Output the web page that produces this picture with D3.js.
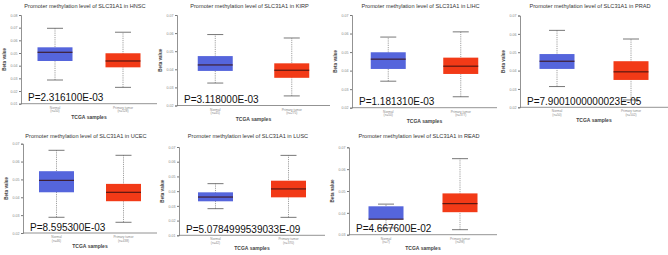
<!DOCTYPE html>
<html lang="en">
<head>
<meta charset="utf-8">
<title>SLC31A1 promoter methylation</title>
<script src="https://d3js.org/d3.v7.min.js"></script>
<style>
    * { margin: 0; padding: 0; }
    body { background: white; width: 668px; height: 255px; overflow: hidden; }
    svg { display: block; font-family: "Liberation Sans", Arial, sans-serif; }
</style>
</head>
<body>
<div id="container"></div>
<script>
    // data
    const cancers = ["HNSC", "KIRP", "LIHC", "PRAD", "UCEC", "LUSC", "READ"];
    const pValues = ["2.316100E-03", "3.118000E-03", "1.181310E-03", "7.9001000000023E-05",
                     "8.595300E-03", "5.0784999539033E-09", "4.667600E-02"];
    const nNormal = [50, 45, 50, 50, 46, 42, 7];
    const nTumor = [528, 275, 377, 502, 438, 370, 98];
    const groups = ["Normal", "Primary tumor"];
    // [min, q1, median, q3, max]
    const normalStats = [
        [0.0287, 0.0437, 0.0506, 0.0545, 0.0695],
        [0.0324, 0.0391, 0.0424, 0.0473, 0.0592],
        [0.0343, 0.0409, 0.0462, 0.0499, 0.0581],
        [0.0313, 0.0409, 0.0451, 0.0490, 0.0619],
        [0.0288, 0.0428, 0.0495, 0.0546, 0.0663],
        [0.0281, 0.0331, 0.0360, 0.0392, 0.0451],
        [0.0331, 0.0370, 0.0371, 0.0430, 0.0440]
    ];
    const tumorStats = [
        [0.0229, 0.0387, 0.0437, 0.0498, 0.0664],
        [0.0253, 0.0353, 0.0395, 0.0433, 0.0573],
        [0.0259, 0.0382, 0.0424, 0.0470, 0.0609],
        [0.0240, 0.0349, 0.0393, 0.0451, 0.0572],
        [0.0260, 0.0378, 0.0428, 0.0475, 0.0635],
        [0.0222, 0.0358, 0.0415, 0.0471, 0.0643],
        [0.0323, 0.0403, 0.0442, 0.0489, 0.0648]
    ];
    const yTicks = [
        [0.01, 0.02, 0.03, 0.04, 0.05, 0.06, 0.07, 0.08],
        [0.02, 0.03, 0.04, 0.05, 0.06, 0.07],
        [0.02, 0.03, 0.04, 0.05, 0.06, 0.07],
        [0.02, 0.03, 0.04, 0.05, 0.06, 0.07],
        [0.02, 0.03, 0.04, 0.05, 0.06, 0.07],
        [0.01, 0.02, 0.03, 0.04, 0.05, 0.06, 0.07],
        [0.03, 0.04, 0.05, 0.06, 0.07]
    ];

    // where each panel sits in the picture
    const layout = [
        { x0: 21,  x1: 157, top: 15,    bot: 103.7 },
        { x0: 177, x1: 330, top: 15,    bot: 105.5 },
        { x0: 352, x1: 497, top: 15,    bot: 107.7 },
        { x0: 520, x1: 668, top: 15.5,  bot: 107.3 },
        { x0: 23,  x1: 157, top: 143.7, bot: 233 },
        { x0: 179, x1: 325, top: 147,   bot: 235.3 },
        { x0: 349, x1: 497, top: 147.3, bot: 234.7 }
    ];
    const titleY = [8, 8, 8, 8, 138, 138, 138];

    const w = 668, h = 255, boxW = 35;

    const svg = d3.select("#container").append("svg")
        .attr("width", w).attr("height", h);

    cancers.forEach((name, i) => {
        const L = layout[i];
        const g = svg.append("g");
        const ticks = yTicks[i];

        const y = d3.scaleLinear()
            .domain([d3.min(ticks), d3.max(ticks)])
            .range([L.bot, L.top]);
        const x = d3.scalePoint()
            .domain(groups)
            .range([L.x0, L.x1])
            .padding(0.5);

        // title
        g.append("text")
            .attr("x", (L.x0 + L.x1) / 2 - 4)
            .attr("y", titleY[i])
            .attr("text-anchor", "middle")
            .attr("font-size", 5.6)
            .attr("fill", "#333")
            .text(`Promoter methylation level of SLC31A1 in ${name}`);

        // y axis
        const yAxis = d3.axisLeft(y).tickValues(ticks).tickSize(2)
            .tickFormat(d3.format(".2f"));
        const ya = g.append("g")
            .attr("transform", `translate(${L.x0},0)`)
            .call(yAxis);
        ya.select(".domain").attr("stroke", "#777").attr("stroke-width", 0.8);
        ya.selectAll(".tick line").attr("stroke", "#777");
        ya.selectAll(".tick text").attr("font-size", 3.6).attr("fill", "#888").attr("x", -3.5);

        // x axis line
        g.append("line")
            .attr("x1", L.x0).attr("x2", L.x1)
            .attr("y1", L.bot).attr("y2", L.bot)
            .attr("stroke", "#777").attr("stroke-width", 0.8);

        g.append("text")
            .attr("transform", `translate(${L.x0 - 15},${(L.top + L.bot) / 2}) rotate(-90)`)
            .attr("text-anchor", "middle")
            .attr("font-size", 4.6)
            .attr("font-weight", "bold")
            .attr("fill", "#444")
            .text("Beta value");

        // boxes
        const stats = [normalStats[i], tumorStats[i]];
        const fills = ["#5565dc", "#f23a17"];
        stats.forEach((s, k) => {
            const cx = x(groups[k]);
            // whisker (dashed)
            g.append("line")
                .attr("x1", cx).attr("x2", cx)
                .attr("y1", y(s[0])).attr("y2", y(s[4]))
                .attr("stroke", "#888").attr("stroke-width", 0.8)
                .attr("stroke-dasharray", "1.2,1");
            [s[0], s[4]].forEach(v => {
                g.append("line")
                    .attr("x1", cx - 8).attr("x2", cx + 8)
                    .attr("y1", y(v)).attr("y2", y(v))
                    .attr("stroke", "#555").attr("stroke-width", 0.8);
            });
            g.append("rect")
                .attr("x", cx - boxW / 2)
                .attr("y", y(s[3]))
                .attr("width", boxW)
                .attr("height", y(s[1]) - y(s[3]))
                .attr("fill", fills[k]);
            g.append("line")
                .attr("x1", cx - boxW / 2).attr("x2", cx + boxW / 2)
                .attr("y1", y(s[2])).attr("y2", y(s[2]))
                .attr("stroke", "#3a1010").attr("stroke-width", 1);

            const labels = [groups[k], `(n=${k === 0 ? nNormal[i] : nTumor[i]})`];
            labels.forEach((t, j) => {
                g.append("text")
                    .attr("x", cx).attr("y", L.bot + 5 + j * 3.6)
                    .attr("text-anchor", "middle")
                    .attr("font-size", 3.2)
                    .attr("fill", "#888")
                    .text(t);
            });
        });

        g.append("text")
            .attr("x", (L.x0 + L.x1) / 2)
            .attr("y", L.bot + 15)
            .attr("text-anchor", "middle")
            .attr("font-size", 5)
            .attr("font-weight", "bold")
            .attr("fill", "#444")
            .text("TCGA samples");

        // p-value
        g.append("text")
            .attr("x", L.x0 + 7)
            .attr("y", L.bot - 2.5)
            .attr("font-size", 10)
            .attr("fill", "#111")
            .text(`P=${pValues[i]}`);
    });
</script>
</body>
</html>
